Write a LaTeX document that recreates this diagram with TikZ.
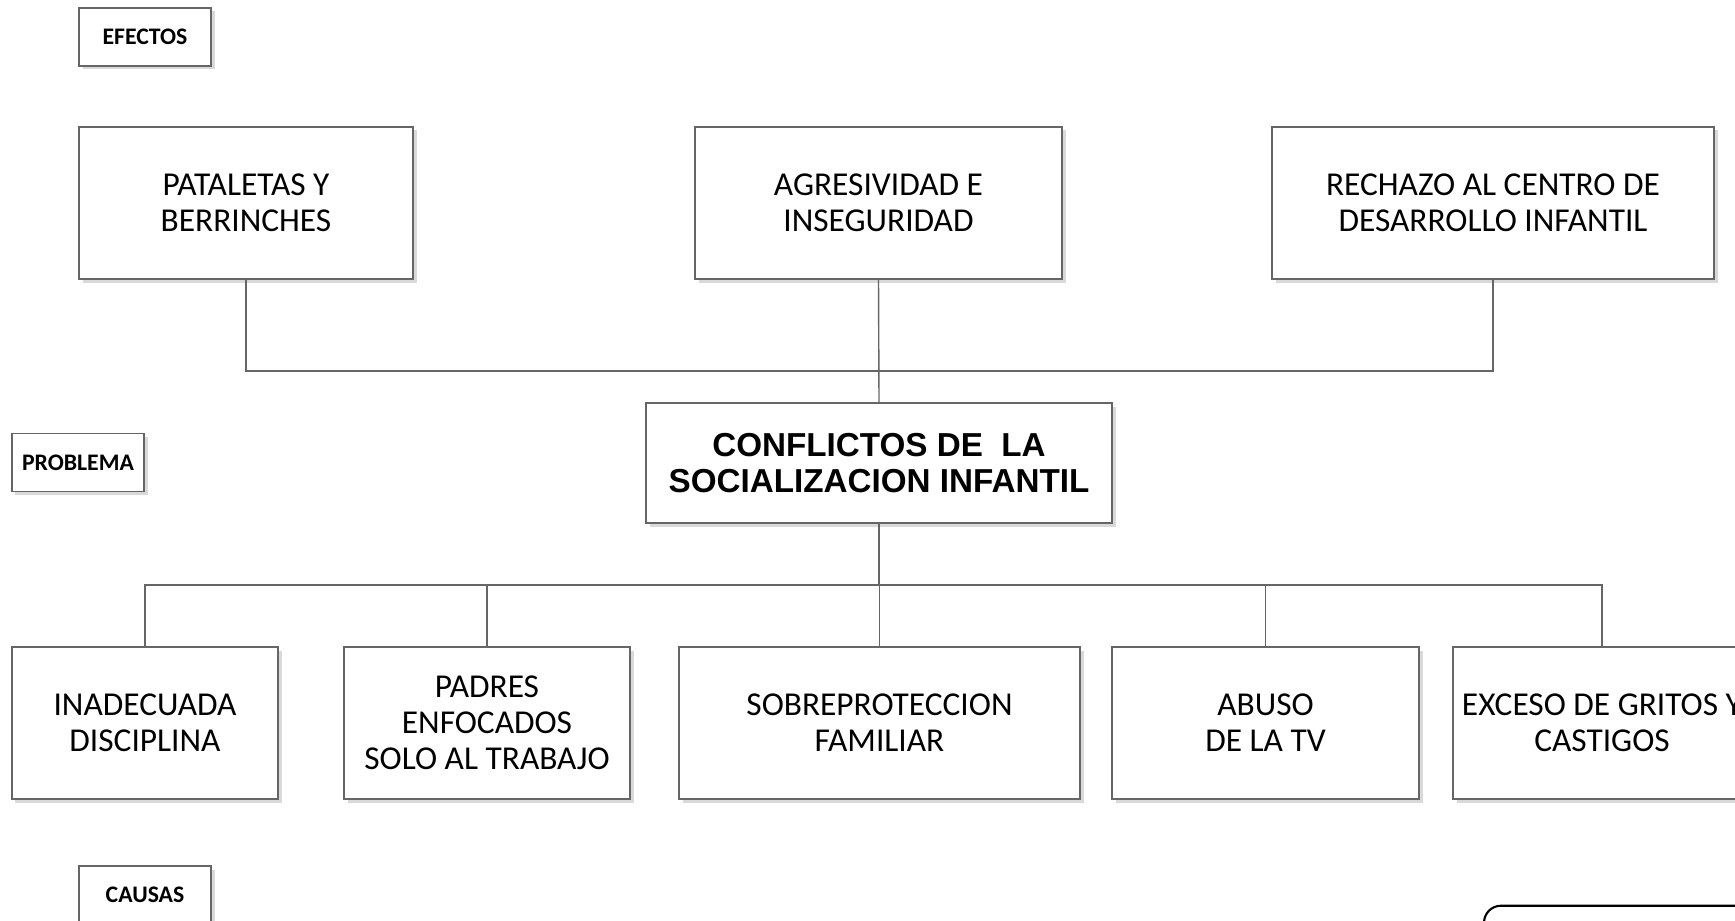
\documentclass[tikz,border=0pt]{standalone}
\usepackage{fontspec}
\setmainfont{Carlito}
\newfontfamily\arialfont{Liberation Sans}
\usetikzlibrary{calc,shadows}
\definecolor{boxline}{HTML}{666666}
\definecolor{shade}{HTML}{D9D9D9}
\newcommand\boxtext{\fontsize{9.5}{10.2}\selectfont}
\newcommand\tagtext{\fontsize{6.75}{7}\selectfont\bfseries}
\newcommand\probtext{\fontsize{9.45}{10.4}\selectfont\arialfont\bfseries}

\begin{document}
\begin{tikzpicture}
[box/.style={rectangle, draw=boxline, fill=white, inner sep=0, align=center,
   drop shadow={shadow xshift=0.035cm, shadow yshift=-0.035cm, fill=shade, opacity=1}},
 effect/.style={box, minimum height=1.52cm, font=\boxtext},
 cause/.style={box, minimum height=1.52cm, font=\boxtext},
 tag/.style={box, minimum width=1.32cm, minimum height=0.58cm, font=\tagtext},
 conn/.style={draw=boxline, line width=0.4pt}]
\path[use as bounding box, clip] (0,0) rectangle (17.35,9.2);
% side labels
\node [tag] (efectos)  at (1.45,8.83)  {EFECTOS};
\node [tag] (problema) at (0.78,4.575) {PROBLEMA};
\node [tag] (causas)   at (1.45,0.25)  {CAUSAS};
% effects
\node [effect, minimum width=3.34cm] (pat) at ( 2.46,7.17) {PATALETAS Y\\BERRINCHES};
\node [effect, minimum width=3.67cm] (agr) at ( 8.785,7.17) {AGRESIVIDAD E\\INSEGURIDAD};
\node [effect, minimum width=4.42cm] (rec) at (14.93,7.17) {RECHAZO AL CENTRO DE\\DESARROLLO INFANTIL};
% problem
\node [box, minimum width=4.66cm, minimum height=1.20cm, font=\probtext] (conf) at (8.79,4.57)
  {CONFLICTOS DE~~LA\\SOCIALIZACION INFANTIL};
% causes
\node [cause, minimum width=2.66cm] (inad) at ( 1.45,1.97) {INADECUADA\\DISCIPLINA};
\node [cause, minimum width=2.86cm] (pad)  at ( 4.87,1.97) {PADRES\\ENFOCADOS\\SOLO AL TRABAJO};
\node [cause, minimum width=4.01cm] (sob)  at ( 8.795,1.97) {SOBREPROTECCION\\FAMILIAR};
\node [cause, minimum width=3.07cm] (abu)  at (12.655,1.97) {ABUSO\\DE LA TV};
\node [cause, minimum width=2.98cm] (exc)  at (16.02,1.97) {EXCESO DE GRITOS Y\\CASTIGOS};
% connectors
\coordinate (ebus) at (0,5.49);
\coordinate (cbus) at (0,3.35);
\draw[conn] (pat.south) -- (pat.south |- ebus) -- (rec.south |- ebus) -- (rec.south);
\draw[conn] (agr.south) -- (conf.north);
\draw[conn] (conf.south) -- (conf.south |- cbus);
\draw[conn] (inad.north) -- (inad.north |- cbus) -- (exc.north |- cbus) -- (exc.north);
\foreach \c in {pad, sob, abu}
  \draw[conn] (\c.north) -- (\c.north |- cbus);
% corner frame
\draw[line width=0.6pt, rounded corners=0.17cm] (14.84,-1) -- (14.84,0.143) -- (18,0.143);
\end{tikzpicture}
\end{document}
